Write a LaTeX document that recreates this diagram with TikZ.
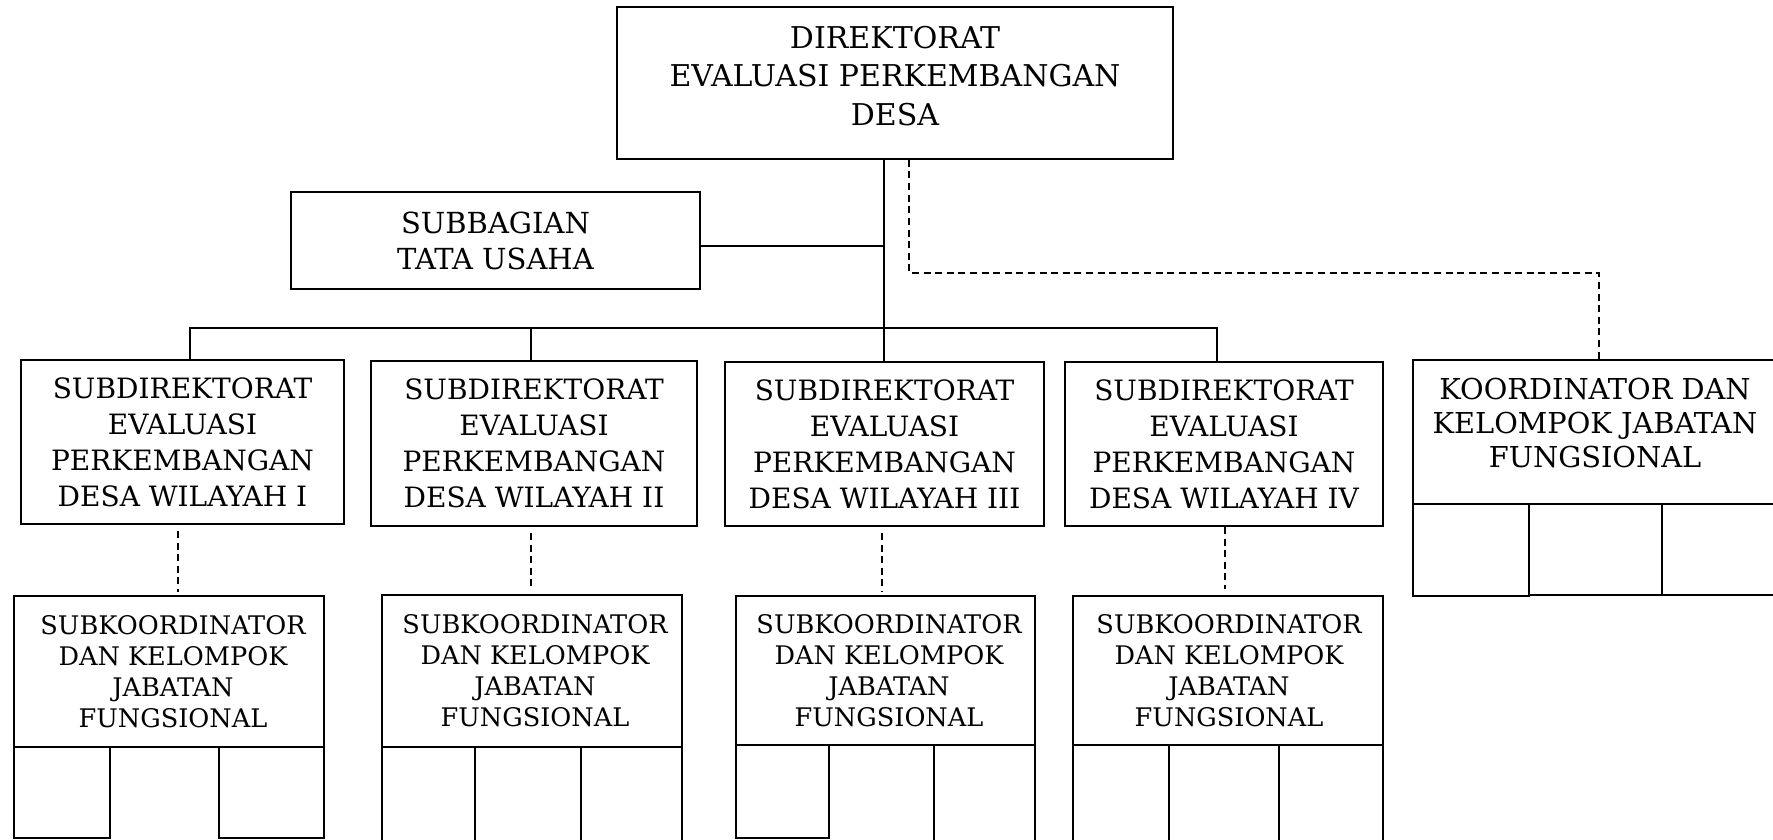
\documentclass[tikz,border=0pt]{standalone}
\usepackage{fontspec}
\setmainfont{DejaVu Serif}
\newcommand\FontTop{\fontsize{15}{19.2}\selectfont}
\newcommand\FontSb{\fontsize{14.5}{18}\selectfont}
\newcommand\FontSd{\fontsize{14}{18}\selectfont}
\newcommand\FontKo{\fontsize{14.4}{17.2}\selectfont}
\newcommand\FontSk{\fontsize{12.8}{15.5}\selectfont}
\tikzset{
  box/.style={draw, line width=0.9pt, inner sep=0pt, align=center},
  txt/.style={align=center, inner sep=0pt},
  conn/.style={line width=0.9pt},
  dconn/.style={line width=0.85pt, dash pattern=on 3.5pt off 2.3pt},
  cell/.style={line width=0.9pt},
}
\begin{document}
\begin{tikzpicture}[x=0.5pt,y=-0.5pt]
\useasboundingbox (0,0) rectangle (1773,840);
% top
\node[box, minimum width=278pt, minimum height=76pt] (dir) at (895,83) {};
\node[txt, font=\FontTop] (dirtxt) at (895,76)
  {DIREKTORAT\\EVALUASI PERKEMBANGAN\\DESA};
\node[box, font=\FontSb, minimum width=204.5pt, minimum height=48.5pt] (sub) at (495.5,240.5)
  {SUBBAGIAN\\TATA USAHA};
% subdirektorat
\node[box, font=\FontSd, minimum width=161.5pt, minimum height=82pt] (sd1) at (182.5,442)
  {SUBDIREKTORAT\\EVALUASI\\PERKEMBANGAN\\DESA WILAYAH I};
\node[box, font=\FontSd, minimum width=163pt, minimum height=82.5pt] (sd2) at (534,443.5)
  {SUBDIREKTORAT\\EVALUASI\\PERKEMBANGAN\\DESA WILAYAH II};
\node[box, font=\FontSd, minimum width=159.5pt, minimum height=82pt] (sd3) at (884.5,444)
  {SUBDIREKTORAT\\EVALUASI\\PERKEMBANGAN\\DESA WILAYAH III};
\node[box, font=\FontSd, minimum width=159pt, minimum height=82pt] (sd4) at (1224,444)
  {SUBDIREKTORAT\\EVALUASI\\PERKEMBANGAN\\DESA WILAYAH IV};
% koordinator
\node[box, minimum width=182.5pt, minimum height=72pt] (koord) at (1595.5,432) {};
\node[txt, font=\FontKo] (koordtxt) at (1595,423)
  {KOORDINATOR DAN\\KELOMPOK JABATAN\\FUNGSIONAL};
\draw[cell] (1413,504) rectangle (1529,596);
\draw[cell] (1529,504) rectangle (1662,595);
\draw[cell] (1662,504) rectangle (1778,595);
% subkoordinator
\node[box, minimum width=155pt, minimum height=75.5pt] (sk1) at (169,671.5) {};
\node[txt, font=\FontSk] (sk1txt) at (173,671.5)
  {SUBKOORDINATOR\\DAN KELOMPOK\\JABATAN\\FUNGSIONAL};
\node[box, minimum width=150pt, minimum height=76pt] (sk2) at (532,671) {};
\node[txt, font=\FontSk] (sk2txt) at (535,671)
  {SUBKOORDINATOR\\DAN KELOMPOK\\JABATAN\\FUNGSIONAL};
\node[box, minimum width=149.5pt, minimum height=74.5pt] (sk3) at (885.5,670.5) {};
\node[txt, font=\FontSk] (sk3txt) at (889,670.5)
  {SUBKOORDINATOR\\DAN KELOMPOK\\JABATAN\\FUNGSIONAL};
\node[box, minimum width=155pt, minimum height=74.5pt] (sk4) at (1228,670.5) {};
\node[txt, font=\FontSk] (sk4txt) at (1229,670.5)
  {SUBKOORDINATOR\\DAN KELOMPOK\\JABATAN\\FUNGSIONAL};
% cells under subkoordinator
\draw[cell] (14,747) rectangle (110,838);
\draw[cell] (219,747) rectangle (324,838);
\draw[cell] (382,747) -- (382,850) (475,747) -- (475,850) (581,747) -- (581,850) (682,747) -- (682,850);
\draw[cell] (736,745) rectangle (829,838);
\draw[cell] (934,745) -- (934,850) (1035,745) -- (1035,850);
\draw[cell] (1073,745) -- (1073,850) (1169,745) -- (1169,850) (1279,745) -- (1279,850) (1383,745) -- (1383,850);
% solid connectors
\coordinate (b1) at (190,328);
\coordinate (b2) at (531,328);
\coordinate (b3) at (884,328);
\coordinate (b4) at (1217,328);
\coordinate (j) at (884,246);
\draw[conn] (dir.south -| b3) -- (b3);
\draw[conn] (sub.east |- j) -- (j);
\draw[conn] (b1 |- sd1.north) -- (b1) -- (b4) -- (b4 |- sd4.north);
\draw[conn] (b2) -- (b2 |- sd2.north);
\draw[conn] (b3) -- (b3 |- sd3.north);
% dashed connectors
\coordinate (d1) at (909,273);
\coordinate (d2) at (1599,273);
\draw[dconn] (d1 |- dir.south) -- (d1) -- (d2) -- (d2 |- koord.north);
\coordinate (e1) at (178,0);
\coordinate (e2) at (531,0);
\coordinate (e3) at (882,0);
\coordinate (e4) at (1225,0);
\draw[dconn, shorten <=3pt, shorten >=1.5pt] (e1 |- sd1.south) -- (e1 |- sk1.north);
\draw[dconn, shorten <=3pt, shorten >=3pt] (e2 |- sd2.south) -- (e2 |- sk2.north);
\draw[dconn, shorten <=3pt, shorten >=1.5pt] (e3 |- sd3.south) -- (e3 |- sk3.north);
\draw[dconn, shorten <=0pt, shorten >=3pt] (e4 |- sd4.south) -- (e4 |- sk4.north);
\end{tikzpicture}
\end{document}
